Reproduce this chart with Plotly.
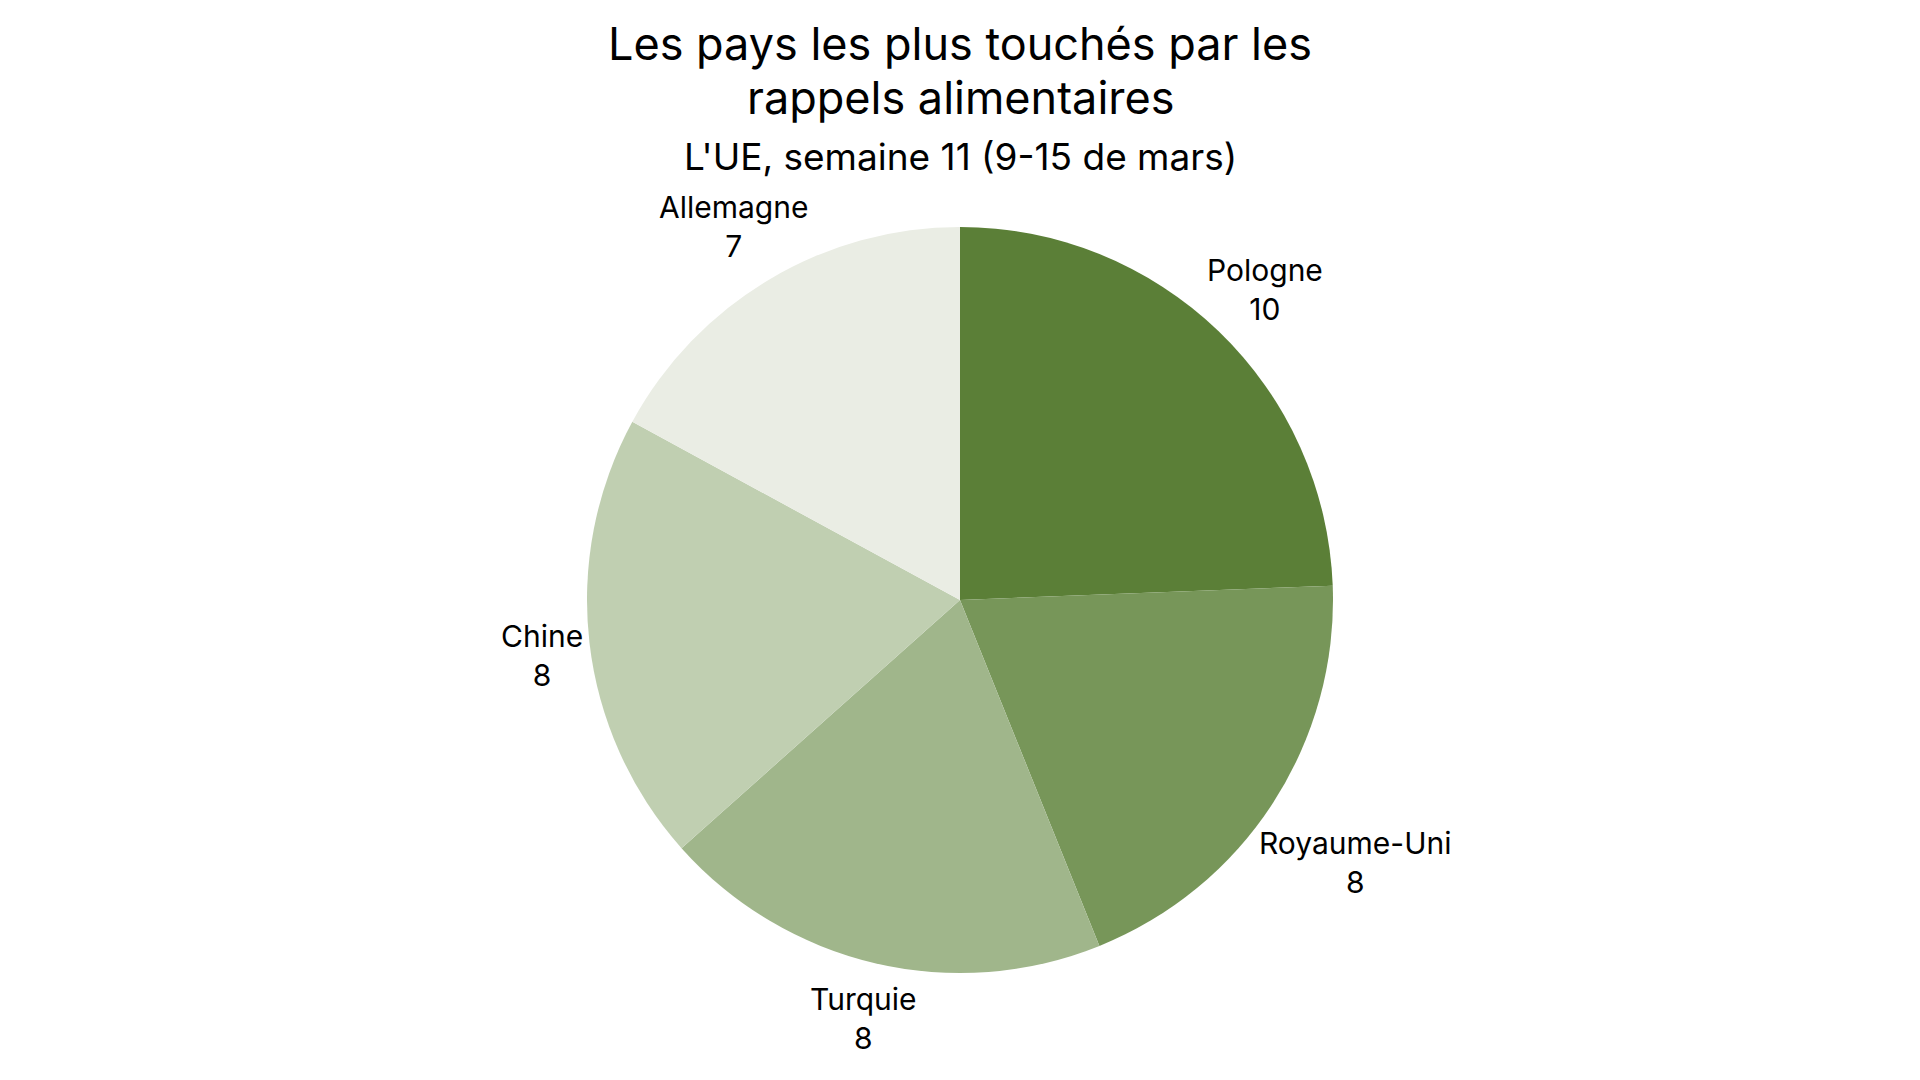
import math
import plotly.graph_objects as go

labels = ["Pologne", "Royaume-Uni", "Turquie", "Chine", "Allemagne"]
values = [10, 8, 8, 8, 7]
colors = ["#5b7f37", "#779659", "#a0b68b", "#c0cfb1", "#eaede4"]

title_lines = ["Les pays les plus touchés par les", "rappels alimentaires"]
subtitle_text = "L'UE, semaine 11 (9-15 de mars)"

W, H = 1920, 1080
M_L, M_R, M_T, M_B = 92, 108, 219, 115
PW, PH = W - M_L - M_R, H - M_T - M_B
R = min(PW, PH) / 2.0
LABEL_SIZE = 30


def px_to_paper(px, py):
    return (px - M_L) / PW, (H - M_B - py) / PH


fig = go.Figure(go.Pie(
    labels=labels,
    values=values,
    sort=False,
    direction="clockwise",
    rotation=0,
    marker=dict(colors=colors, line=dict(width=0)),
    textinfo="none",
    showlegend=False,
    hoverinfo="label+value",
))

# outside labels centred on each slice's mid-angle, pushed clear of the circle
annotations = []
cx, cy = M_L + PW / 2.0, M_T + PH / 2.0
total = sum(values)
cum = 0.0
for lab, val in zip(labels, values):
    mid = (cum + val / 2.0) / total * 2 * math.pi
    cum += val
    dx, dy = math.sin(mid), -math.cos(mid)
    half_w = 0.55 * LABEL_SIZE * max(len(lab), len(str(val))) / 2.0
    half_h = 34.0
    t = R + 3 + abs(dx) * half_w + abs(dy) * half_h
    ax, ay = px_to_paper(cx + dx * t, cy + dy * t + 7)
    annotations.append(dict(text=f"{lab}<br>{val}", x=ax, y=ay, xref="paper", yref="paper",
                            xanchor="center", yanchor="middle", showarrow=False,
                            font=dict(family="Inter", size=LABEL_SIZE, color="#000000")))

for txt, py, size in [(title_lines[0], 44, 45), (title_lines[1], 97, 45), (subtitle_text, 156.5, 37)]:
    ax, ay = px_to_paper(W / 2.0 - 8, py - 8)
    annotations.append(dict(text=txt, x=ax, y=ay, xref="paper", yref="paper",
                            xanchor="center", yanchor="middle", showarrow=False,
                            font=dict(family="Inter", size=size, color="#000000")))

fig.update_layout(
    width=W, height=H,
    paper_bgcolor="white", plot_bgcolor="white",
    margin=dict(t=M_T, b=M_B, l=M_L, r=M_R),
    font=dict(family="Inter", color="#000000"),
    annotations=annotations,
)

fig.write_html("out.html")
